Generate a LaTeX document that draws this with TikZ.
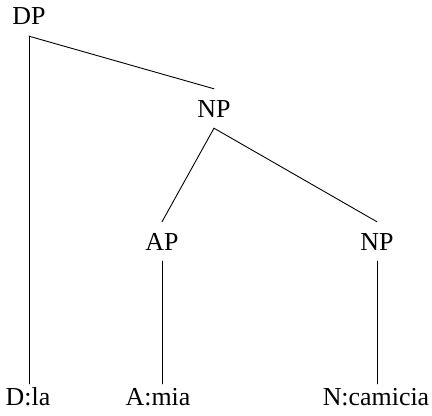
\documentclass[tikz,border=0pt]{standalone}
\usepackage{fontspec}
\setmainfont{Liberation Serif}
\begin{document}
\begin{tikzpicture}[x=1bp,y=1bp,
  label/.style={font=\fontsize{26}{30}\selectfont, anchor=base,
    text height=17bp, text depth=0bp, inner xsep=0bp},
  phrase/.style={label, inner ysep=11bp},
  leaf/.style={label, inner ysep=4bp},
  branch/.style={line width=0.9bp, line cap=round}]
\useasboundingbox (0,0) rectangle (432,416);

% phrase nodes
\node[phrase] (dp)  at (29,391)  {DP};
\node[phrase] (np1) at (214,299) {NP};
\node[phrase] (ap)  at (162,166) {AP};
\node[phrase] (np2) at (377,166) {NP};

% terminal words
\node[leaf] (dla)  at (28,11)  {D:la};
\node[leaf] (amia) at (158,11) {A:mia};
\node[leaf] (ncam) at (376,11) {N:camicia};

% branches
\draw[branch] (dp.south) -- (np1.north);
\draw[branch] (dp.south) -- (dp.south |- dla.north);
\draw[branch] (np1.south) -- (ap.north);
\draw[branch] (np1.south) -- (np2.north);
\draw[branch] (ap.south) -- (ap.south |- amia.north);
\draw[branch] (np2.south) -- (np2.south |- ncam.north);
\end{tikzpicture}
\end{document}
